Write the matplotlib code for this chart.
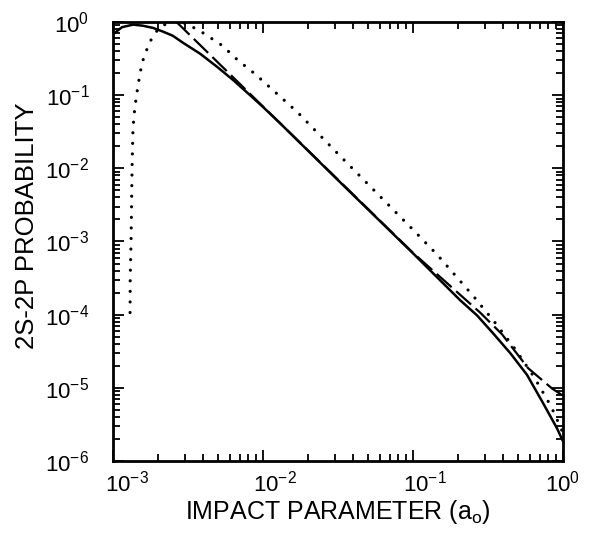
"""2S-2P transition probability versus impact parameter (log-log)."""

import math

import matplotlib
matplotlib.use("Agg")
import matplotlib.pyplot as plt
import matplotlib.transforms as mtransforms
from matplotlib.ticker import LogLocator, NullFormatter, FixedLocator

# solid curve
b_solid = [1.0e-3, 1.15e-3, 1.36e-3, 1.58e-3, 1.85e-3, 2.15e-3, 2.5e-3, 2.93e-3,
           3.8e-3, 4.93e-3, 6.3e-3, 7.9e-3, 1.0e-2, 1.3e-2, 3.16e-2, 0.1,
           0.206, 0.267, 0.341, 0.444, 0.575, 0.736, 0.912, 1.0]
p_solid = [0.68, 0.85, 0.92, 0.89, 0.83, 0.74, 0.65, 0.52,
           0.37, 0.245, 0.162, 0.107, 0.069, 0.0413, 6.9e-3, 6.9e-4,
           1.58e-4, 9.8e-5, 5.6e-5, 3.0e-5, 1.51e-5, 6.2e-6, 2.8e-6, 1.86e-6]

# dashed curve
b_dashed = [2.6e-3, 1.0e-2, 0.1, 0.28, 0.392, 0.585, 0.845, 1.0]
p_dashed = [1.04, 0.07, 7.0e-4, 1.07e-4, 5.4e-5, 1.86e-5, 9.8e-6, 7.8e-6]

# dotted curve
b_dotted = [1.3e-3, 1.303e-3, 1.32e-3, 1.33e-3, 1.34e-3, 1.36e-3, 1.40e-3, 1.47e-3,
            1.56e-3, 1.74e-3, 1.91e-3, 2.12e-3, 2.69e-3, 3.41e-3, 3.98e-3, 5.33e-3,
            6.8e-3, 8.85e-3, 0.0115, 0.0169, 0.0316, 0.1, 0.145, 0.251,
            0.352, 0.479, 0.641, 0.832, 0.955, 1.0]
p_dotted = [1.07e-4, 3.2e-4, 1.0e-3, 3.2e-3, 1.0e-2, 0.036, 0.069, 0.138,
            0.275, 0.51, 0.71, 0.89, 1.07, 0.85, 0.71, 0.48,
            0.30, 0.195, 0.12, 0.059, 0.0158, 1.45e-3, 6.6e-4, 1.82e-4,
            7.8e-5, 3.4e-5, 1.41e-5, 5.6e-6, 3.0e-6, 2.4e-6]

x_major = [1e-3, 1e-2, 1e-1, 1e0]
y_major = [1e-6, 1e-5, 1e-4, 1e-3, 1e-2, 1e-1, 1e0]

plt.rcParams["font.family"] = ["Liberation Sans", "DejaVu Sans"]
plt.rcParams["mathtext.fontset"] = "custom"
plt.rcParams["mathtext.rm"] = "Liberation Sans"
plt.rcParams["mathtext.it"] = "Liberation Sans"


def decade_label(v):
    return r"$\mathregular{10^{%d}}$" % int(round(math.log10(v)))


fig = plt.figure(figsize=(5.94, 5.35), dpi=100)
ax = fig.add_axes([0.1902, 0.1383, 0.7576, 0.8206])

ax.plot(b_solid, p_solid, color="black", lw=1.8, solid_capstyle="butt")
ax.plot(b_dashed, p_dashed, color="black", lw=1.6, linestyle=(0, (9.0, 2.7)))
ax.plot(b_dotted, p_dotted, color="black", lw=2.3, linestyle=(0, (0.01, 3.3)),
        dash_capstyle="round")

ax.set_xscale("log")
ax.set_yscale("log")
ax.set_xlim(1e-3, 1.0)
ax.set_ylim(1e-6, 1.0)

ax.xaxis.set_major_locator(FixedLocator(x_major))
ax.yaxis.set_major_locator(FixedLocator(y_major))
ax.xaxis.set_minor_locator(LogLocator(base=10, subs=range(2, 10)))
ax.yaxis.set_minor_locator(LogLocator(base=10, subs=range(2, 10)))
ax.xaxis.set_minor_formatter(NullFormatter())
ax.yaxis.set_minor_formatter(NullFormatter())
ax.set_yticklabels([decade_label(v) for v in y_major], fontsize=16)

# x decade labels: the "10" sits just left of each tick, exponent hangs right
for v, dx in zip(x_major, [-8, -10, -10, -18]):
    off = mtransforms.ScaledTranslation(dx / 100, -10 / 100, fig.dpi_scale_trans)
    ax.text(v, 0, decade_label(v), fontsize=16, ha="left", va="top",
            transform=ax.get_xaxis_transform() + off, clip_on=False)

ax.tick_params(which="both", direction="in", top=True, right=True, width=1.3)
ax.tick_params(which="major", length=8)
ax.tick_params(which="minor", length=5)
ax.tick_params(axis="x", labelbottom=False)
ax.tick_params(axis="y", which="major", pad=17)
for s in ax.spines.values():
    s.set_linewidth(2.0)

ax.set_xlabel(r"IMPACT PARAMETER (a$_\mathregular{o}$)", fontsize=18)
ax.set_ylabel("2S-2P PROBABILITY", fontsize=18.5)
ax.yaxis.set_label_coords(-0.164, 0.535)
ax.xaxis.set_label_coords(0.5, -0.085)

fig.savefig("out.png", dpi=100)
